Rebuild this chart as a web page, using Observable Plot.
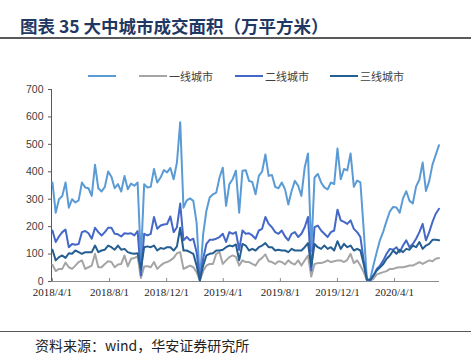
<!DOCTYPE html>
<html><head><meta charset="utf-8">
<script src="https://cdn.jsdelivr.net/npm/d3@7"></script>
<script src="https://cdn.jsdelivr.net/npm/@observablehq/plot@0.6"></script>
<style>
body{margin:0;background:#fff;width:474px;height:362px;position:relative;overflow:hidden;font-family:"Noto Sans CJK SC",sans-serif;}
#title{position:absolute;left:20px;top:15px;font-size:17.5px;font-weight:700;color:#1f3864;white-space:nowrap;line-height:22px;}
.rule{position:absolute;left:0;width:471px;height:1.6px;background:#595959;}
.li{position:absolute;top:68px;height:16px;display:flex;align-items:center;font-size:11px;color:#404040;white-space:nowrap;}
.sw{display:inline-block;width:28px;height:2.5px;margin-right:2px}
#chart{position:absolute;left:0;top:80px;}
#cap{position:absolute;left:35px;top:336px;font-size:14px;color:#222;white-space:nowrap;line-height:18px}
</style></head><body>
<div id="title">图表 35 大中城市成交面积（万平方米）</div>
<div class="rule" style="top:37.4px"></div>
<div id="legend"></div>
<div id="chart"></div>
<div class="rule" style="top:330.8px"></div>
<div id="cap">资料来源：wind，华安证券研究所</div>
<script>
// weekly data starting 2018-04-01
const seriesNames = ["", "一线城市", "二线城市", "三线城市"];
const seriesColors = ["#5b9bd5", "#a5a5a5", "#4468c8", "#255e91"];
const total = [361,251,300,312,361,269,300,288,296,361,
343,340,312,426,340,328,345,401,382,340,
355,328,385,336,357,349,361,80,355,343,
345,410,361,379,406,398,414,373,434,581,
269,296,303,294,215,5,172,258,306,318,
324,379,415,276,355,373,404,251,404,406,
367,363,318,385,401,463,385,388,345,340,
361,336,281,330,367,349,312,416,467,110,
379,392,361,343,336,361,355,485,373,410,
405,467,345,368,361,190,5,8,60,108,
152,183,221,256,272,270,251,303,329,294,
285,347,371,434,330,366,426,462,497];
const tier1 = [61,38,46,46,69,52,46,58,71,77,
46,52,58,101,52,52,64,74,71,52,
62,64,95,55,83,86,91,13,55,56,
52,71,46,58,67,71,77,86,103,107,
46,52,58,52,34,4,38,58,64,64,
101,107,64,77,89,95,90,58,77,71,
71,64,58,77,86,99,74,71,64,74,
71,62,77,67,62,77,58,77,95,18,
64,67,67,71,77,71,74,77,77,71,
79,101,67,77,58,34,4,4,10,26,
30,34,38,46,46,50,52,52,55,58,
58,64,71,64,71,77,74,83,86];
const tier2 = [186,144,164,180,189,125,137,134,137,180,
184,176,156,196,180,168,180,196,196,174,
172,164,176,174,176,168,184,22,174,168,
174,235,192,204,208,210,237,180,198,284,
150,162,150,156,107,4,83,137,152,152,
156,162,174,144,180,174,180,115,186,174,
176,168,156,186,192,235,210,198,180,174,
186,164,150,174,180,162,174,198,235,40,
198,204,186,174,162,180,186,262,223,217,
210,223,192,180,162,77,6,4,22,46,
58,77,101,119,116,125,107,131,150,125,
137,156,180,210,150,180,217,247,265];
const tier3 = [116,77,89,95,86,103,101,113,107,101,
107,107,107,131,107,113,116,131,125,116,
131,116,119,107,103,101,103,45,125,128,
125,131,113,122,119,125,125,113,128,196,
113,113,107,101,58,4,58,95,101,103,
113,113,116,125,131,128,135,77,137,131,
113,119,113,125,131,140,125,125,113,116,
113,113,107,119,113,113,113,125,140,55,
137,125,119,131,119,125,113,147,119,137,
125,131,113,119,113,64,6,6,22,40,
52,64,83,95,113,101,116,107,119,116,
131,125,144,119,131,137,152,152,150];
const yTicks = [0,100,200,300,400,500,600,700];
const xTickLabels = ["2018/4/1","2018/8/1","2018/12/1","2019/4/1","2019/8/1","2019/12/1","2020/4/1"];

const parse = s => { const [y,m,d] = s.split("/").map(Number); return new Date(Date.UTC(y, m-1, d)); };
const start = parse("2018/4/1");
const dates = total.map((_, i) => new Date(start.getTime() + i * 7 * 864e5));
const xTicks = xTickLabels.map(parse);
const fmt = d => `${d.getUTCFullYear()}/${d.getUTCMonth()+1}/${d.getUTCDate()}`;
const all = [total, tier1, tier2, tier3];
const domainX = [parse("2018/3/30"), parse("2020/7/6")];

// legend
const legendLeft = [88, 139, 235, 330];
const leg = document.getElementById("legend");
seriesNames.forEach((n, i) => {
  const el = document.createElement("div");
  el.className = "li";
  el.style.left = legendLeft[i] + "px";
  el.innerHTML = `<span class="sw" style="background:${seriesColors[i]}"></span><span>${n}</span>`;
  leg.appendChild(el);
});

const lineMarks = all.map((vals, k) =>
  Plot.line(vals.map((v, i) => ({date: dates[i], value: v})), {
    x: "date", y: "value", stroke: seriesColors[k], strokeWidth: 2, strokeLinejoin: "round"
  }));

const chart = Plot.plot({
  width: 474, height: 225,
  marginTop: 9, marginBottom: 24, marginLeft: 51, marginRight: 35,
  x: {type: "utc", domain: domainX, label: null},
  y: {domain: [0, 700], label: null},
  style: {background: "transparent", color: "#404040", overflow: "visible"},
  marks: [
    Plot.axisY({ticks: yTicks, tickSize: 3, tickPadding: 5, tickFormat: d => String(d), label: null,
      fontSize: 10.5, fontFamily: "Liberation Sans, Arial, sans-serif", stroke: "#595959", fill: "#404040"}),
    Plot.axisX({ticks: xTicks, tickSize: 0, tickPadding: 7, tickFormat: fmt, label: null,
      fontSize: 11, fontFamily: "Liberation Serif, serif", fill: "#262626"}),
    Plot.ruleX(xTicks, {x: d => d, y1: 0, y2: 0, insetBottom: 3, stroke: "#8c8c8c"}),
    Plot.ruleY([0], {stroke: "#8c8c8c", strokeWidth: 1.2}),
    Plot.ruleX([domainX[0]], {stroke: "#595959"}),
    ...lineMarks
  ]
});
document.getElementById("chart").appendChild(chart);
</script>
</body></html>
